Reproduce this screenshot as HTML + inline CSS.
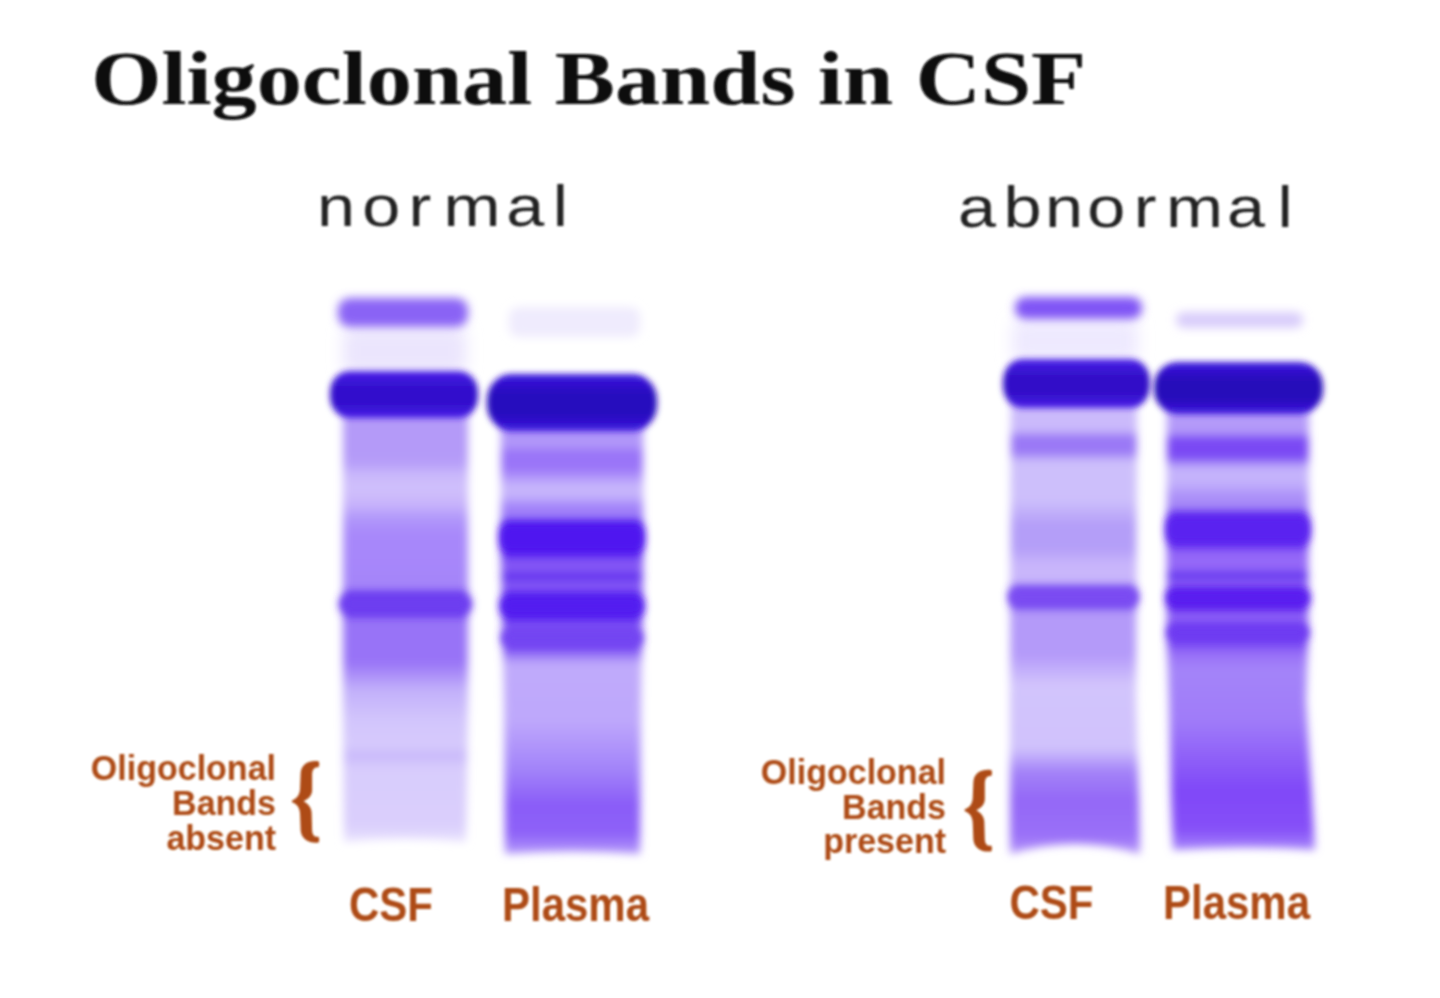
<!DOCTYPE html>
<html><head><meta charset="utf-8"><title>Oligoclonal Bands in CSF</title>
<style>
html,body{margin:0;padding:0;background:#fff;}
body{width:1440px;height:998px;overflow:hidden;font-family:"Liberation Sans",sans-serif;}
svg{display:block;}
</style></head><body>
<svg width="1440" height="998" viewBox="0 0 1440 998">
<defs>
<filter id="b3" filterUnits="userSpaceOnUse" x="0" y="0" width="1440" height="998"><feGaussianBlur stdDeviation="3.0"/></filter><filter id="b4" filterUnits="userSpaceOnUse" x="0" y="0" width="1440" height="998"><feGaussianBlur stdDeviation="4.0"/></filter><filter id="b5" filterUnits="userSpaceOnUse" x="0" y="0" width="1440" height="998"><feGaussianBlur stdDeviation="5.0"/></filter><filter id="b8" filterUnits="userSpaceOnUse" x="0" y="0" width="1440" height="998"><feGaussianBlur stdDeviation="8.0"/></filter><filter id="bt" filterUnits="userSpaceOnUse" x="0" y="0" width="1440" height="998"><feGaussianBlur stdDeviation="0.9"/></filter>
<linearGradient id="gnc" gradientUnits="userSpaceOnUse" x1="0" y1="396" x2="0" y2="842"><stop offset="0.0000" stop-color="#b49af8"/><stop offset="0.1323" stop-color="#b49af8"/><stop offset="0.1547" stop-color="#b8a0f9"/><stop offset="0.1726" stop-color="#c8b6fb"/><stop offset="0.2063" stop-color="#d0c0fc"/><stop offset="0.2422" stop-color="#c8b4fb"/><stop offset="0.2758" stop-color="#b096fa"/><stop offset="0.3094" stop-color="#a888fa"/><stop offset="0.4305" stop-color="#a585f9"/><stop offset="0.4439" stop-color="#6d3ef0"/><stop offset="0.4865" stop-color="#6d3ef0"/><stop offset="0.5045" stop-color="#9873f7"/><stop offset="0.5964" stop-color="#9873f7"/><stop offset="0.6592" stop-color="#c2b0fa"/><stop offset="0.7265" stop-color="#d2c5fc"/><stop offset="0.7825" stop-color="#d6cafc"/><stop offset="0.8072" stop-color="#c9b9fb"/><stop offset="0.8341" stop-color="#d8ccfc"/><stop offset="0.9641" stop-color="#dacffc"/><stop offset="1.0000" stop-color="#ebe5fe"/></linearGradient><linearGradient id="d1" gradientUnits="userSpaceOnUse" x1="0" y1="371" x2="0" y2="418"><stop offset="0.0000" stop-color="#4a20ea"/><stop offset="0.3500" stop-color="#3210cc"/><stop offset="0.7000" stop-color="#3210cc"/><stop offset="1.0000" stop-color="#4a20ea"/></linearGradient><linearGradient id="gnp" gradientUnits="userSpaceOnUse" x1="0" y1="405" x2="0" y2="854"><stop offset="0.0000" stop-color="#a585f9"/><stop offset="0.0891" stop-color="#b39af9"/><stop offset="0.1047" stop-color="#9a74f8"/><stop offset="0.1403" stop-color="#9a74f8"/><stop offset="0.1826" stop-color="#c9b8fc"/><stop offset="0.2049" stop-color="#c3b0fb"/><stop offset="0.2272" stop-color="#a080f9"/><stop offset="0.2472" stop-color="#a080f9"/><stop offset="0.2628" stop-color="#5019f0"/><stop offset="0.3274" stop-color="#5019f0"/><stop offset="0.3497" stop-color="#8558f5"/><stop offset="0.3697" stop-color="#8558f5"/><stop offset="0.3764" stop-color="#6230ef"/><stop offset="0.3875" stop-color="#6230ef"/><stop offset="0.3964" stop-color="#8558f5"/><stop offset="0.4098" stop-color="#8558f5"/><stop offset="0.4232" stop-color="#521cf0"/><stop offset="0.4722" stop-color="#521cf0"/><stop offset="0.4878" stop-color="#8558f5"/><stop offset="0.4989" stop-color="#7344f2"/><stop offset="0.5390" stop-color="#7344f2"/><stop offset="0.5768" stop-color="#c0aafb"/><stop offset="0.7016" stop-color="#bea8fb"/><stop offset="0.8129" stop-color="#a283f9"/><stop offset="0.8909" stop-color="#8a5cf8"/><stop offset="0.9555" stop-color="#8e62f8"/><stop offset="1.0000" stop-color="#b69cfa"/></linearGradient><linearGradient id="d2" gradientUnits="userSpaceOnUse" x1="0" y1="374" x2="0" y2="431"><stop offset="0.0000" stop-color="#3c16e0"/><stop offset="0.3500" stop-color="#280cbe"/><stop offset="0.7000" stop-color="#280cbe"/><stop offset="1.0000" stop-color="#3c16e0"/></linearGradient><linearGradient id="gac" gradientUnits="userSpaceOnUse" x1="0" y1="388" x2="0" y2="854"><stop offset="0.0000" stop-color="#cbbafb"/><stop offset="0.0901" stop-color="#cbbafb"/><stop offset="0.1052" stop-color="#9a78f6"/><stop offset="0.1373" stop-color="#9a78f6"/><stop offset="0.1588" stop-color="#cdbffb"/><stop offset="0.2403" stop-color="#cdbffb"/><stop offset="0.2940" stop-color="#b49ef8"/><stop offset="0.3433" stop-color="#b49ef8"/><stop offset="0.3798" stop-color="#c9b6fb"/><stop offset="0.4163" stop-color="#c9b6fb"/><stop offset="0.4313" stop-color="#7a4cf2"/><stop offset="0.4657" stop-color="#7a4cf2"/><stop offset="0.4828" stop-color="#b49af9"/><stop offset="0.5730" stop-color="#b49af9"/><stop offset="0.6373" stop-color="#d2c4fc"/><stop offset="0.7725" stop-color="#d0c2fc"/><stop offset="0.8240" stop-color="#a382f8"/><stop offset="0.8841" stop-color="#9468f7"/><stop offset="0.9614" stop-color="#9a70f8"/><stop offset="1.0000" stop-color="#b79af9"/></linearGradient><linearGradient id="d3" gradientUnits="userSpaceOnUse" x1="0" y1="359" x2="0" y2="408"><stop offset="0.0000" stop-color="#4a20ea"/><stop offset="0.3500" stop-color="#3210c8"/><stop offset="0.7000" stop-color="#3210c8"/><stop offset="1.0000" stop-color="#4a20ea"/></linearGradient><linearGradient id="gap" gradientUnits="userSpaceOnUse" x1="0" y1="392" x2="0" y2="850"><stop offset="0.0000" stop-color="#b49af9"/><stop offset="0.0873" stop-color="#b49af9"/><stop offset="0.1026" stop-color="#7a48f4"/><stop offset="0.1419" stop-color="#7a48f4"/><stop offset="0.1659" stop-color="#c4b2fb"/><stop offset="0.1965" stop-color="#c4b2fb"/><stop offset="0.2314" stop-color="#a98cf8"/><stop offset="0.2489" stop-color="#a98cf8"/><stop offset="0.2686" stop-color="#6028f0"/><stop offset="0.3319" stop-color="#6028f0"/><stop offset="0.3515" stop-color="#9468f8"/><stop offset="0.3886" stop-color="#9468f8"/><stop offset="0.3952" stop-color="#6230ef"/><stop offset="0.4061" stop-color="#6230ef"/><stop offset="0.4148" stop-color="#9468f8"/><stop offset="0.4192" stop-color="#9468f8"/><stop offset="0.4301" stop-color="#5c20ee"/><stop offset="0.4694" stop-color="#5c20ee"/><stop offset="0.4869" stop-color="#8f62f7"/><stop offset="0.4978" stop-color="#8f62f7"/><stop offset="0.5087" stop-color="#6e3af2"/><stop offset="0.5415" stop-color="#6e3af2"/><stop offset="0.5742" stop-color="#9a72f8"/><stop offset="0.6070" stop-color="#a484f9"/><stop offset="0.7162" stop-color="#a07cf9"/><stop offset="0.8690" stop-color="#8048f8"/><stop offset="0.9563" stop-color="#8650f8"/><stop offset="1.0000" stop-color="#a888fa"/></linearGradient><linearGradient id="d4" gradientUnits="userSpaceOnUse" x1="0" y1="362" x2="0" y2="414"><stop offset="0.0000" stop-color="#3c16e0"/><stop offset="0.3500" stop-color="#280cba"/><stop offset="0.7000" stop-color="#280cba"/><stop offset="1.0000" stop-color="#3c16e0"/></linearGradient>
</defs>
<rect width="1440" height="998" fill="#ffffff"/>
<rect x="343" y="328" width="123" height="46" rx="8" ry="8" fill="#ebe5fd" opacity="1" filter="url(#b8)"/>
<path d="M343,396 L468,396 L468,700 L466,842 Q405.0,836 344,842 L343,700 L343,396 Z" fill="url(#gnc)" filter="url(#b4)"/>
<rect x="338" y="298" width="130" height="29" rx="12" ry="12" fill="#8a64f5" opacity="1" filter="url(#b5)"/>
<rect x="339" y="594" width="133" height="20" rx="10" ry="10" fill="#6d3ef0" opacity="1" filter="url(#b4)"/>
<rect x="330" y="371" width="148" height="47" rx="19" ry="21.5" fill="url(#d1)" opacity="1" filter="url(#b3)"/>
<rect x="509" y="307" width="131" height="30" rx="9" ry="9" fill="#efebfd" opacity="1" filter="url(#b5)"/>
<path d="M501,405 L643,405 L643,560 L641,700 L640,854 Q572.5,849 505,854 L504,700 L501,560 L501,405 Z" fill="url(#gnp)" filter="url(#b4)"/>
<rect x="500" y="524" width="144" height="27" rx="9" ry="9" fill="#5019f0" opacity="1" filter="url(#b4)"/>
<rect x="500" y="596" width="144" height="20" rx="9" ry="9" fill="#521cf0" opacity="1" filter="url(#b4)"/>
<rect x="501" y="631" width="142" height="14" rx="7" ry="7" fill="#7344f2" opacity="1" filter="url(#b4)"/>
<rect x="487" y="374" width="170" height="57" rx="24" ry="26.5" fill="url(#d2)" opacity="1" filter="url(#b3)"/>
<rect x="1012" y="320" width="126" height="42" rx="8" ry="8" fill="#eee9fe" opacity="1" filter="url(#b8)"/>
<path d="M1011,388 L1137,388 L1136,700 L1139,800 L1140,854 Q1075.0,834 1010,854 L1010,800 L1010,700 L1011,388 Z" fill="url(#gac)" filter="url(#b4)"/>
<rect x="1015" y="297" width="127" height="22" rx="10" ry="10" fill="#8055f5" opacity="1" filter="url(#b5)"/>
<rect x="1008" y="588" width="131" height="18" rx="9" ry="9" fill="#7a4cf2" opacity="1" filter="url(#b4)"/>
<rect x="1003" y="359" width="147" height="49" rx="19" ry="22.5" fill="url(#d3)" opacity="1" filter="url(#b3)"/>
<rect x="1176" y="312" width="127" height="16" rx="8" ry="8" fill="#d9cdfb" opacity="1" filter="url(#b5)"/>
<path d="M1167,392 L1309,392 L1308,640 L1306,700 L1312,800 L1315,850 Q1244.0,845 1173,850 L1171,800 L1169,700 L1167,640 L1167,392 Z" fill="url(#gap)" filter="url(#b4)"/>
<rect x="1166" y="516" width="144" height="27" rx="9" ry="9" fill="#5a20f0" opacity="1" filter="url(#b4)"/>
<rect x="1166" y="590" width="144" height="16" rx="8" ry="8" fill="#5a1ef0" opacity="1" filter="url(#b4)"/>
<rect x="1167" y="626" width="142" height="13" rx="7" ry="6.5" fill="#6e3af2" opacity="1" filter="url(#b4)"/>
<rect x="1154" y="362" width="169" height="52" rx="24" ry="24.0" fill="url(#d4)" opacity="1" filter="url(#b3)"/>
<g filter="url(#bt)">
<text x="0" y="0" transform="translate(91.3,104) scale(1.187,1)" font-family="Liberation Serif, serif" font-weight="bold" font-size="76" fill="#080808">Oligoclonal Bands in CSF</text>
<text x="280.00 317.75 350.00 393.33 437.75 466.88" y="0" text-anchor="middle" transform="translate(0,226) scale(1.2,1)" font-family="Liberation Sans, sans-serif" font-size="57" fill="#222">normal</text>
<text x="814.13 852.04 886.71 921.83 954.29 995.42 1038.46 1070.92" y="0" text-anchor="middle" transform="translate(0,226.7) scale(1.2,1)" font-family="Liberation Sans, sans-serif" font-size="57" fill="#222">abnormal</text>
<text x="0" y="0" transform="translate(349,920.5) scale(1,1.14)" text-anchor="start" font-family="Liberation Sans, sans-serif" font-weight="bold" font-size="42" fill="#ae4b13">CSF</text>
<text x="0" y="0" transform="translate(502,920.5) scale(1,1.14)" text-anchor="start" font-family="Liberation Sans, sans-serif" font-weight="bold" font-size="42" fill="#ae4b13">Plasma</text>
<text x="0" y="0" transform="translate(1009.5,919.3) scale(1,1.14)" text-anchor="start" font-family="Liberation Sans, sans-serif" font-weight="bold" font-size="42" fill="#ae4b13">CSF</text>
<text x="0" y="0" transform="translate(1163,919.3) scale(1,1.14)" text-anchor="start" font-family="Liberation Sans, sans-serif" font-weight="bold" font-size="42" fill="#ae4b13">Plasma</text>
<text x="0" y="0" transform="translate(276,779.6) scale(1,1.05)" text-anchor="end" font-family="Liberation Sans, sans-serif" font-weight="bold" font-size="34" fill="#ae4b13">Oligoclonal</text>
<text x="0" y="0" transform="translate(276,815) scale(1,1.05)" text-anchor="end" font-family="Liberation Sans, sans-serif" font-weight="bold" font-size="34" fill="#ae4b13">Bands</text>
<text x="0" y="0" transform="translate(276,850) scale(1,1.05)" text-anchor="end" font-family="Liberation Sans, sans-serif" font-weight="bold" font-size="34" fill="#ae4b13">absent</text>
<text x="0" y="0" transform="translate(946,784) scale(1,1.05)" text-anchor="end" font-family="Liberation Sans, sans-serif" font-weight="bold" font-size="34" fill="#ae4b13">Oligoclonal</text>
<text x="0" y="0" transform="translate(946,819.3) scale(1,1.05)" text-anchor="end" font-family="Liberation Sans, sans-serif" font-weight="bold" font-size="34" fill="#ae4b13">Bands</text>
<text x="0" y="0" transform="translate(946,853.4) scale(1,1.05)" text-anchor="end" font-family="Liberation Sans, sans-serif" font-weight="bold" font-size="34" fill="#ae4b13">present</text>
<path d="M318.36,761.17 C310.30,759.97 301.52,762.86 300.68,773.08 L300.08,788.12 C300.08,794.74 296.71,798.71 293.10,799.91 C291.41,800.51 291.41,802.20 293.10,802.80 C296.71,804.00 300.08,807.97 300.08,814.59 L300.68,830.83 C301.52,840.09 310.30,843.70 318.36,842.50 C319.56,842.02 319.56,836.96 318.12,836.72 C314.27,836.96 312.35,835.04 312.11,830.23 L311.62,812.78 C311.50,807.37 307.53,803.40 303.44,801.35 C307.53,799.31 312.11,795.94 312.11,790.29 L312.11,774.29 C312.35,769.47 314.27,766.95 318.12,767.19 C319.56,766.95 319.56,761.65 318.36,761.17 Z" fill="#ae4b13"/>
<path d="M991.06,770.07 C983.00,768.87 974.22,771.76 973.38,781.98 L972.78,797.02 C972.78,803.64 969.41,807.61 965.80,808.81 C964.11,809.41 964.11,811.10 965.80,811.70 C969.41,812.90 972.78,816.87 972.78,823.49 L973.38,839.73 C974.22,848.99 983.00,852.60 991.06,851.40 C992.26,850.92 992.26,845.86 990.82,845.62 C986.97,845.86 985.05,843.94 984.81,839.13 L984.32,821.68 C984.20,816.27 980.23,812.30 976.14,810.25 C980.23,808.21 984.81,804.84 984.81,799.19 L984.81,783.19 C985.05,778.37 986.97,775.85 990.82,776.09 C992.26,775.85 992.26,770.55 991.06,770.07 Z" fill="#ae4b13"/>
</g>
</svg>
</body></html>
